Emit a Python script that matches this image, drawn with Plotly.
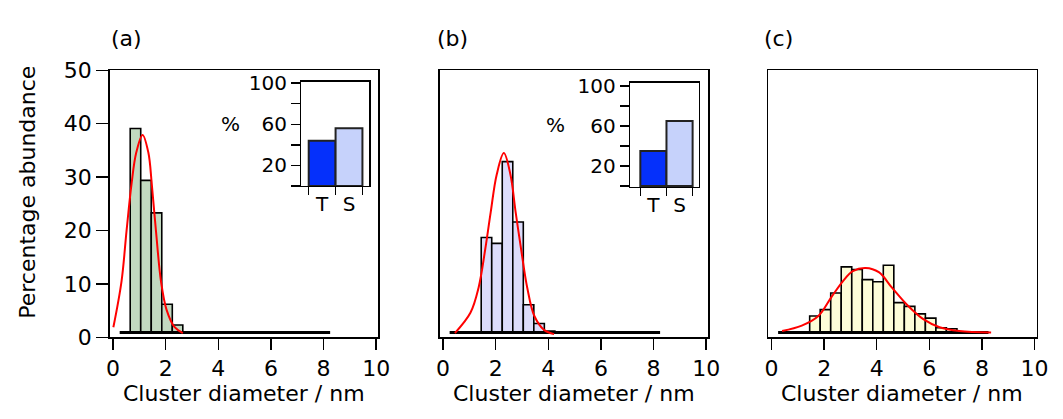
import plotly.graph_objects as go

# ---------------- data ----------------
BIN_START = 0.25
BIN_WIDTH = 0.4
N_BINS = 20
BASE = 0.9  # drawn baseline of the histogram bars

# percentage abundance per bin (bins start at 0.25 nm, width 0.4 nm)
hist_a = [0, 39.1, 29.4, 23.3, 6.2, 2.3, 0, 0, 0, 0, 0, 0, 0, 0, 0, 0, 0, 0, 0, 0]
hist_b = [0, 0, 0, 18.7, 17.6, 32.9, 21.6, 6.1, 2.6, 1.2, 0, 0, 0, 0, 0, 0, 0, 0, 0, 0]
hist_c = [0, 0, 0, 4.0, 5.2, 8.3, 13.2, 12.7, 10.8, 10.4, 13.5, 6.5, 5.8, 4.4, 3.6, 1.8, 1.6, 0, 0, 0]

# fitted curves
fit_a_x = [0.01, 0.32, 0.51, 0.70, 0.88, 1.12, 1.34, 1.47, 1.63, 1.82, 2.03, 2.34, 2.65]
fit_a_y = [1.9, 10.5, 19.9, 28.7, 34.6, 37.9, 34.6, 28.7, 19.9, 10.5, 5.2, 1.9, 0.8]
fit_b_x = [0.45, 1.04, 1.35, 1.60, 1.81, 2.04, 2.31, 2.56, 2.76, 2.97, 3.20, 3.47, 3.85, 4.22]
fit_b_y = [0.8, 4.6, 9.3, 16.4, 23.4, 30.5, 34.5, 30.5, 23.4, 16.4, 9.3, 4.0, 1.35, 0.6]
fit_c_x = [0.40, 1.15, 1.78, 2.27, 2.71, 3.09, 3.58, 4.08, 4.58, 5.15, 5.77, 6.39, 7.14, 8.35]
fit_c_y = [1.2, 2.2, 4.0, 7.5, 10.5, 12.4, 13.0, 12.2, 9.3, 6.1, 3.4, 1.9, 1.2, 0.9]

# insets: T / S percentages
inset_cats = ["T", "S"]
inset_a = [44, 56]
inset_b = [35, 65]

x_ticks = [0, 2, 4, 6, 8, 10]
y_ticks = [0, 10, 20, 30, 40, 50]
inset_yticks = [0, 20, 40, 60, 80, 100]
inset_yticktext = ["", "20", "", "60", "", "100"]

# ---------------- style ----------------
W, H = 1063, 419
FONT = "DejaVu Sans"
COL_A = "#c2d9c0"
COL_B = "#dcdcfb"
COL_C = "#fdfdd8"
COL_T = "#0530fb"
COL_S = "#c6d2fb"


def px_x(p):
    return p / W


def px_y(p):
    return 1 - p / H


edges = [BIN_START + BIN_WIDTH * k for k in range(N_BINS + 1)]
centers = [BIN_START + BIN_WIDTH * (k + 0.5) for k in range(N_BINS)]

fig = go.Figure()

panels = [
    ("x", "y", hist_a, COL_A, fit_a_x, fit_a_y),
    ("x2", "y2", hist_b, COL_B, fit_b_x, fit_b_y),
    ("x3", "y3", hist_c, COL_C, fit_c_x, fit_c_y),
]

for xa, ya, hist, col, fx, fy in panels:
    xs = [c for c, v in zip(centers, hist) if v > 0]
    ys = [v - BASE for v in hist if v > 0]
    fig.add_trace(go.Bar(
        x=xs, y=ys, base=BASE, width=BIN_WIDTH,
        marker=dict(color=col, line=dict(color="black", width=1.6)),
        xaxis=xa, yaxis=ya, showlegend=False, hoverinfo="skip"))
    fig.add_trace(go.Scatter(
        x=[edges[0], edges[-1]], y=[BASE, BASE], mode="lines",
        line=dict(color="black", width=3),
        xaxis=xa, yaxis=ya, showlegend=False, hoverinfo="skip"))
    fig.add_trace(go.Scatter(
        x=fx, y=fy, mode="lines", line=dict(color="#ff0000", width=2, shape="spline", smoothing=1.0),
        xaxis=xa, yaxis=ya, showlegend=False, hoverinfo="skip"))

for xa, ya, vals in [("x4", "y4", inset_a), ("x5", "y5", inset_b)]:
    fig.add_trace(go.Bar(
        x=inset_cats, y=vals, width=1.0,
        marker=dict(color=[COL_T, COL_S], line=dict(color="#222222", width=2)),
        xaxis=xa, yaxis=ya, showlegend=False, hoverinfo="skip"))

tick_font = dict(family=FONT, size=22, color="black")
inset_font = dict(family=FONT, size=20, color="black")

frame = dict(showline=True, mirror=True, linecolor="black", linewidth=1.5,
             showgrid=False, zeroline=False)

y_dom = [px_y(346), px_y(62)]
x_doms = [
    [px_x(107.3), px_x(380)],
    [px_x(442.3), px_x(715)],
    [px_x(775.8), px_x(1048.4)],
]

layout = dict(
    width=W, height=H,
    margin=dict(l=0, r=0, t=0, b=0),
    paper_bgcolor="white", plot_bgcolor="rgba(0,0,0,0)",
    font=dict(family=FONT, size=22, color="black"),
    barmode="overlay",
    hovermode=False,
)

for i, dom in enumerate(x_doms):
    n = "" if i == 0 else str(i + 1)
    layout["xaxis" + n] = dict(
        domain=dom, range=[-0.13, 10.08], anchor="y" + n,
        tickvals=x_ticks, ticks="outside", ticklen=11, tickwidth=1.5, tickcolor="black",
        tickfont=tick_font, **frame)
    yax = dict(domain=y_dom, range=[0, 50], anchor="x" + n, **frame)
    if i == 0:
        yax.update(tickvals=y_ticks, ticks="outside", ticklen=12, tickwidth=1.5,
                   tickcolor="black", tickfont=tick_font)
    else:
        yax.update(showticklabels=False, ticks="")
    layout["yaxis" + n] = yax

insets = [
    ("4", [px_x(302), px_x(371)], [px_y(185), px_y(74)], [-0.77, 1.76], [0, 101.5]),
    ("5", [px_x(635.7), px_x(705.5)], [px_y(186), px_y(75)], [-0.89, 1.74], [-1, 103.5]),
]
for n, xd, yd, xr, yr in insets:
    layout["xaxis" + n] = dict(
        domain=xd, range=xr, anchor="y" + n, type="category",
        categoryorder="array", categoryarray=inset_cats,
        ticks="outside", tickson="boundaries", ticklen=8, tickwidth=1.5, tickcolor="black",
        tickfont=inset_font, **frame)
    layout["yaxis" + n] = dict(
        domain=yd, range=yr, anchor="x" + n,
        tickvals=inset_yticks, ticktext=inset_yticktext,
        ticks="outside", ticklen=9, tickwidth=1.5, tickcolor="black",
        tickfont=inset_font, **frame)

fig.update_layout(**layout)

ann = []
for lab, cx in [("(a)", 124), ("(b)", 455), ("(c)", 786)]:
    ann.append(dict(text=lab, x=px_x(cx), y=px_y(28), xref="paper", yref="paper",
                    showarrow=False, xanchor="center", yanchor="middle",
                    font=dict(family=FONT, size=22, color="black")))
for dom in x_doms:
    ann.append(dict(text="Cluster diameter / nm", x=(dom[0] + dom[1]) / 2,
                    y=px_y(406), xref="paper", yref="paper", showarrow=False,
                    xanchor="center", yanchor="middle",
                    font=dict(family=FONT, size=22, color="black")))
ann.append(dict(text="Percentage abundance", x=px_x(23), y=px_y(191.5), xref="paper", yref="paper",
                showarrow=False, textangle=-90, xanchor="center", yanchor="middle",
                font=dict(family=FONT, size=22, color="black")))
for cx, cy in [(230, 119), (560, 120)]:
    ann.append(dict(text="%", x=px_x(cx), y=px_y(cy), xref="paper", yref="paper",
                    showarrow=False, xanchor="center", yanchor="middle",
                    font=dict(family=FONT, size=20, color="black")))
fig.update_layout(annotations=ann)

fig.write_html(
    "out.html",
    config={"displayModeBar": False, "staticPlot": True},
    post_script="document.body.style.margin='0';document.documentElement.style.overflow='hidden';document.body.style.overflow='hidden';",
)
